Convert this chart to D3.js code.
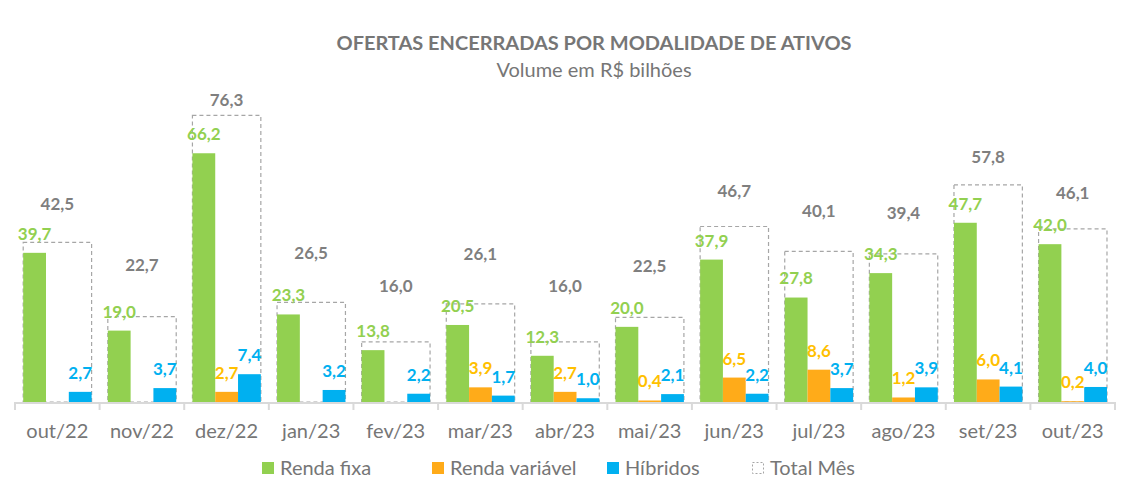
<!DOCTYPE html>
<html><head><meta charset="utf-8">
<script src="https://cdn.jsdelivr.net/npm/d3@7"></script>
<style>
body{margin:0;background:#fff;}
svg{display:block;font-family:Lato,"Open Sans",sans-serif;}
</style></head>
<body><svg id="c" width="1133" height="502"></svg>
<script>
const categories = ["out/22","nov/22","dez/22","jan/23","fev/23","mar/23","abr/23","mai/23","jun/23","jul/23","ago/23","set/23","out/23"];
const rendaFixa = [39.7,19.0,66.2,23.3,13.8,20.5,12.3,20.0,37.9,27.8,34.3,47.7,42.0];
const rendaVariavel = [null,null,2.7,null,null,3.9,2.7,0.4,6.5,8.6,1.2,6.0,0.2];
const hibridos = [2.7,3.7,7.4,3.2,2.2,1.7,1.0,2.1,2.2,3.7,3.9,4.1,4.0];
const totalMes = [42.5,22.7,76.3,26.5,16.0,26.1,16.0,22.5,46.7,40.1,39.4,57.8,46.1];
const seriesNames = ["Renda fixa","Renda variável","Híbridos","Total Mês"];
const title = "OFERTAS ENCERRADAS POR MODALIDADE DE ATIVOS";
const subtitle = "Volume em R$ bilhões";

const svg = d3.select("#c");
const fill = ["#92D050","#FFAB19","#00B0F0"];
const labelColor = ["#92D050","#FFC000","#00B0F0"];
const gray = "#7F7F7F";
const fmt = v => d3.format(".1f")(v).replace(".",",");

const x = d3.scaleBand().domain(categories).range([15,1115]).padding(0);
const xi = d3.scaleBand().domain([0,1,2]).range([8.2,76.6]).padding(0);
const y = d3.scaleLinear().domain([0,80]).range([402,101.4]);
const yT = d3.scaleLinear().domain([0,100]).range([335,26.5]);

// title
svg.append("text").attr("x",594).attr("y",43).attr("text-anchor","middle").attr("dy","0.35em")
  .attr("font-size",19).attr("font-weight","bold").attr("fill","#767676")
  .attr("textLength",515).attr("lengthAdjust","spacingAndGlyphs").text(title);
svg.append("text").attr("x",594).attr("y",70).attr("text-anchor","middle").attr("dy","0.35em")
  .attr("font-size",20).attr("fill","#767676").text(subtitle);

const g = svg.append("g");
const totals = categories.map((c,i)=>({c, v: totalMes[i]}));
g.selectAll("rect.tot").data(totals).join("rect").attr("class","tot")
  .attr("x",d=>x(d.c)+xi.range()[0]).attr("width",xi.range()[1]-xi.range()[0])
  .attr("y",d=>y(d.v)).attr("height",d=>y(0)-y(d.v))
  .attr("fill","none").attr("stroke","#A6A6A6").attr("stroke-width",1.2).attr("stroke-dasharray","4,3");

const series = [rendaFixa,rendaVariavel,hibridos];
const seriesData = series.map((vals,s)=>categories.map((c,i)=>({c, s, v: vals[i]})).filter(d=>d.v!=null));
seriesData.forEach((data,s)=>{
  g.selectAll("rect.s"+s).data(data).join("rect").attr("class","s"+s)
    .attr("x",d=>x(d.c)+xi(s)).attr("width",xi.bandwidth())
    .attr("y",d=>y(d.v)).attr("height",d=>y(0)-y(d.v))
    .attr("fill",fill[s]);
});

// axis
const ax = svg.append("g");
ax.append("line").attr("x1",x.range()[0]).attr("x2",x.range()[1]).attr("y1",y(0)+1).attr("y2",y(0)+1)
  .attr("stroke","#D9D9D9").attr("stroke-width",2);
const bounds = categories.map(c=>x(c)).concat([x.range()[1]]);
ax.selectAll("line.tk").data(bounds).join("line").attr("class","tk")
  .attr("x1",d=>d).attr("x2",d=>d).attr("y1",y(0)).attr("y2",y(0)+8)
  .attr("stroke","#D9D9D9").attr("stroke-width",2);
const axis = d3.axisBottom(x).tickSize(0).tickPadding(0);
const axg = svg.append("g").attr("transform",`translate(0,${y(0)})`).call(axis);
axg.select(".domain").remove();
axg.selectAll("text").attr("font-size",20).attr("fill","#767676").attr("font-family","Lato,'Open Sans',sans-serif")
  .attr("y",29).attr("dy","0.35em");

// value labels
seriesData.forEach((data,s)=>{
  g.selectAll("text.l"+s).data(data).join("text").attr("class","l"+s)
    .attr("x",d=>x(d.c)+xi(s)+xi.bandwidth()/2).attr("y",d=>y(d.v)-19).attr("dy","0.35em")
    .attr("text-anchor","middle").attr("font-size",17).attr("font-weight","bold").attr("fill",labelColor[s])
    .text(d=>fmt(d.v));
});
g.selectAll("text.lt").data(totals).join("text").attr("class","lt")
  .attr("x",d=>x(d.c)+x.bandwidth()/2).attr("y",d=>yT(d.v)).attr("dy","0.35em")
  .attr("text-anchor","middle").attr("font-size",17).attr("font-weight","bold").attr("fill",gray)
  .text(d=>fmt(d.v));

// legend
const legX = [262,432,607,752];
const lg = svg.append("g");
seriesNames.forEach((n,i)=>{
  if(i<3){
    lg.append("rect").attr("x",legX[i]).attr("y",462).attr("width",12).attr("height",12).attr("fill",fill[i]);
  } else {
    lg.append("rect").attr("x",legX[i]+0.5).attr("y",462.5).attr("width",11).attr("height",11).attr("fill","none")
      .attr("stroke","#A6A6A6").attr("stroke-dasharray","2,2");
  }
  lg.append("text").attr("x",legX[i]+18).attr("y",468).attr("dy","0.35em").attr("font-size",20)
    .attr("fill","#767676").text(n);
});
</script></body></html>
